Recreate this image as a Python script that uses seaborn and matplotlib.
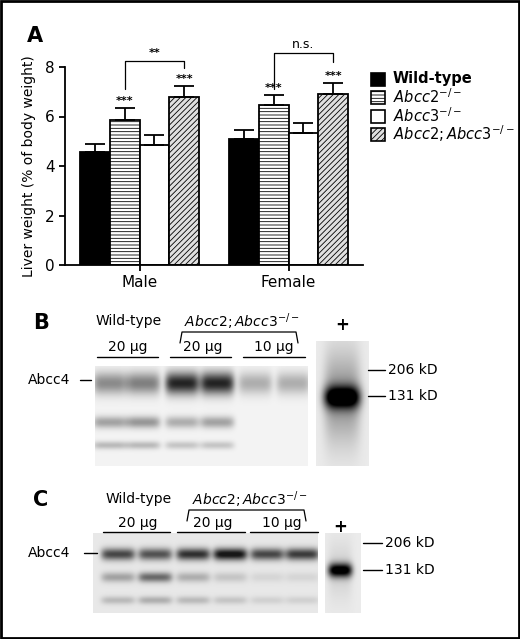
import numpy as np
import pandas as pd
import matplotlib
matplotlib.use("Agg")
import matplotlib.pyplot as plt
import seaborn as sns
from matplotlib.patches import Patch, Rectangle

sns.set_style("ticks")
plt.rcParams['font.family'] = ['DejaVu Sans']
plt.rcParams['hatch.linewidth'] = 0.6
for k in ['text.color', 'axes.labelcolor', 'xtick.color', 'ytick.color', 'axes.edgecolor']:
    plt.rcParams[k] = 'black'

sexes = ["Male", "Female"]
genotypes = ["Wild-type", "Abcc2-/-", "Abcc3-/-", "Abcc2;Abcc3-/-"]
male_mean = [4.55, 5.85, 4.85, 6.8]
male_err = [0.35, 0.5, 0.4, 0.42]
female_mean = [5.1, 6.45, 5.35, 6.9]
female_err = [0.37, 0.4, 0.4, 0.45]
stars_male = ["", "***", "", "***"]
stars_female = ["", "***", "", "***"]

# blot band intensities (0..1) per lane: main band, lower band 1, lower band 2
blotB_main = [0.45, 0.5, 0.9, 0.9, 0.3, 0.3]
blotB_low1 = [0.35, 0.4, 0.3, 0.35, 0.0, 0.0]
blotB_low2 = [0.25, 0.25, 0.2, 0.2, 0.0, 0.0]
blotC_main = [0.7, 0.65, 0.8, 0.95, 0.7, 0.75]
blotC_low1 = [0.3, 0.55, 0.25, 0.15, 0.08, 0.08]
blotC_low2 = [0.2, 0.25, 0.2, 0.15, 0.1, 0.1]

W, H = 520, 639
fig = plt.figure(figsize=(W/100, H/100), dpi=100)

df = pd.DataFrame({
    "sex": np.repeat(sexes, 4),
    "genotype": genotypes * 2,
    "value": male_mean + female_mean,
})
ax = fig.add_axes([65/W, 1-265/H, 298/W, 198/H])
sns.barplot(data=df, x="sex", y="value", hue="genotype", order=sexes,
            hue_order=genotypes, ax=ax, width=0.8, errorbar=None,
            edgecolor="black", linewidth=1.3, legend=False)
bars = list(ax.containers[:4])
colors = ["black", "white", "white", "#e0e0e0"]
hatches = [None, "-----", None, "//////"]
errs = male_err + female_err
for gi, cont in enumerate(bars):
    for si, bar in enumerate(cont):
        bar.set_facecolor(colors[gi])
        if hatches[gi]:
            bar.set_hatch(hatches[gi])
        xc = bar.get_x() + bar.get_width()/2
        h = bar.get_height()
        e = errs[si*4 + gi]
        ax.errorbar(xc, h, yerr=[[0], [e]], color="black", capsize=7,
                    elinewidth=1.3, capthick=1.3)
        st = (stars_male if si == 0 else stars_female)[gi]
        if st:
            ax.text(xc, h + e + 0.08, st, ha="center", va="bottom", fontsize=8, fontweight="bold")
ax.set_xlim(-0.5, 1.5)
ax.set_ylim(0, 8)
ax.set_yticks([0, 2, 4, 6, 8])
ax.set_xlabel("")
ax.set_ylabel("Liver weight (% of body weight)", fontsize=10, labelpad=6)
ax.tick_params(labelsize=11, width=1.3, length=4)
for s in ["left", "bottom"]:
    ax.spines[s].set_linewidth(1.3)
sns.despine(ax=ax)
ax.set_xticks([0, 1])
ax.set_xticklabels(sexes, fontsize=11)

def bracket(gi1, gi2, si, ytop, y1, y2, label):
    b1 = bars[gi1][si]; b2 = bars[gi2][si]
    x1 = b1.get_x() + b1.get_width()/2; x2 = b2.get_x() + b2.get_width()/2
    ax.plot([x1, x1, x2, x2], [y1, ytop, ytop, y2], color="black", lw=0.9, clip_on=False)
    ax.text((x1+x2)/2, ytop + 0.1, label, ha="center", va="bottom", fontsize=9 if label == "n.s." else 8,
            fontweight="normal" if label == "n.s." else "bold", clip_on=False)
bracket(1, 3, 0, 8.25, 7.1, 7.95, "**")
bracket(1, 3, 1, 8.55, 7.1, 8.2, "n.s.")

ov = fig.add_axes([0, 0, 1, 1], zorder=5)
ov.set_xlim(0, W); ov.set_ylim(H, 0); ov.axis("off")
ov.patch.set_alpha(0)
ov.add_patch(Rectangle((1, 1), W-2, H-2, fill=False, edgecolor="black", lw=2))

leg_y = [79, 97, 116, 134]
leg_lab = [("Wild-type", "normal", "bold"), (r"$\it{Abcc2}^{\rm{-/-}}$", "italic", "normal"),
           (r"$\it{Abcc3}^{\rm{-/-}}$", "italic", "normal"), (r"$\it{Abcc2;Abcc3}^{\rm{-/-}}$", "italic", "normal")]
for i, y in enumerate(leg_y):
    ov.add_patch(Rectangle((371, y-6), 14, 13, facecolor=colors[i], edgecolor="black",
                           hatch=hatches[i], lw=1.2))
    t, st, fw = leg_lab[i]
    ov.text(393, y, t, va="center", fontsize=10.5, style=st, fontweight=fw)

ov.text(27, 36, "A", fontsize=15, fontweight="bold", va="center")

def blot(x0, x1, y0, y1, centers, bands, lane_w, smear=0.05):
    xs = np.arange(x0, x1, 0.5); ys = np.arange(y0, y1, 0.5)
    X, Y = np.meshgrid(xs, ys)
    img = np.full(X.shape, smear)
    for yc, amps, sy in bands:
        for c, a in zip(centers, amps):
            img += a * np.exp(-((X-c)/lane_w)**6) * np.exp(-((Y-yc)/sy)**2)
    img = np.clip(img, 0, 1)
    ov.imshow(img, extent=[x0, x1, y1, y0], cmap="gray_r", vmin=0, vmax=1.1,
              aspect="auto", interpolation="bilinear")

def plus_lane(x0, x1, y0, y1, xc, yc, w, h, tail):
    xs = np.arange(x0, x1, 0.5); ys = np.arange(y0, y1, 0.5)
    X, Y = np.meshgrid(xs, ys)
    img = 0.08 + np.exp(-((X-xc)/w)**4) * (np.exp(-((Y-yc)/h)**2) + tail*np.exp(-((Y-yc)/(4*h))**2))
    img = np.clip(img, 0, 1)
    ov.imshow(img, extent=[x0, x1, y1, y0], cmap="gray_r", vmin=0, vmax=1.0,
              aspect="auto", interpolation="bilinear")

centB = [110, 143, 182, 217, 255, 293]
blot(95, 308, 366, 466, centB, [(383, blotB_main, 11), (422, blotB_low1, 6), (445, blotB_low2, 4)], 17)
plus_lane(316, 369, 341, 466, 342, 397, 18, 11, 0.35)
ov.text(33, 323, "B", fontsize=15, fontweight="bold", va="center")
ov.text(129, 321, "Wild-type", fontsize=10, ha="center", va="center")
ov.text(242, 322, r"$\it{Abcc2;Abcc3}^{\rm{-/-}}$", fontsize=10, ha="center", va="center")
ov.plot([180, 182, 296, 298], [343, 332, 332, 343], color="black", lw=0.9)
for xc, a, b in [(128, 97, 158), (203, 170, 231), (274, 243, 305)]:
    ov.text(xc, 347, ("20" if xc < 260 else "10") + " µg", fontsize=10, ha="center", va="center")
    ov.plot([a, b], [357, 357], color="black", lw=1)
ov.text(342, 325, "+", fontsize=12, ha="center", va="center", fontweight="bold")
ov.text(28, 380, "Abcc4", fontsize=10, va="center")
ov.plot([80, 91], [380, 380], color="black", lw=1)
ov.plot([368, 385], [370, 370], color="black", lw=1)
ov.text(388, 370, "206 kD", fontsize=10, va="center")
ov.plot([368, 385], [396, 396], color="black", lw=1)
ov.text(388, 396, "131 kD", fontsize=10, va="center")

centC = [118, 155, 193, 230, 267, 302]
blot(93, 318, 533, 613, centC, [(554, blotC_main, 6), (577, blotC_low1, 5), (600, blotC_low2, 4)], 17, 0.1)
plus_lane(325, 361, 533, 613, 340, 570, 12, 7, 0.1)
ov.text(33, 500, "C", fontsize=15, fontweight="bold", va="center")
ov.text(139, 499, "Wild-type", fontsize=10, ha="center", va="center")
ov.text(250, 500, r"$\it{Abcc2;Abcc3}^{\rm{-/-}}$", fontsize=10, ha="center", va="center")
ov.plot([187, 189, 304, 306], [521, 510, 510, 521], color="black", lw=0.9)
for xc, a, b in [(138, 103, 170), (213, 177, 245), (282, 250, 318)]:
    ov.text(xc, 523, ("20" if xc < 270 else "10") + " µg", fontsize=10, ha="center", va="center")
    ov.plot([a, b], [532, 532], color="black", lw=1)
ov.text(340, 527, "+", fontsize=12, ha="center", va="center", fontweight="bold")
ov.text(28, 553, "Abcc4", fontsize=10, va="center")
ov.plot([84, 97], [553, 553], color="black", lw=1)
ov.plot([363, 382], [543, 543], color="black", lw=1)
ov.text(385, 543, "206 kD", fontsize=10, va="center")
ov.plot([363, 382], [570, 570], color="black", lw=1)
ov.text(385, 570, "131 kD", fontsize=10, va="center")

fig.savefig("out.png", dpi=100)
